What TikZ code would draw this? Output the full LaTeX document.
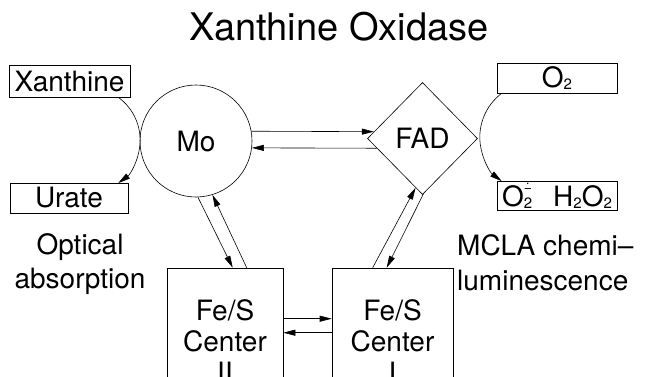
\documentclass[tikz,border=0pt]{standalone}
\usepackage{fontspec}
\setmainfont{TeX Gyre Heros}
\usetikzlibrary{shapes.geometric,arrows.meta,calc}
\newcommand{\subtwo}{\raisebox{-0.06em}{\fontsize{15}{15}\selectfont 2}}
\newcommand{\radsup}{\makebox[0pt][l]{\raisebox{0.50em}{\fontsize{14}{14}\selectfont −}}\makebox[0pt][l]{\hspace{0.08em}\raisebox{0.80em}{\fontsize{12}{12}\selectfont .}}}
\tikzset{
  lbl/.style={font=\fontsize{28}{31}\selectfont},
  sbox/.style={draw, line width=0.6pt, inner sep=0pt, lbl},
  conn/.style={line width=0.6pt, -{Triangle[length=12pt,width=6pt]}},
}
\begin{document}
\begin{tikzpicture}[x=1pt,y=-1pt]
\useasboundingbox (0,0) rectangle (646,376);
\fill[white] (0,0) rectangle (646,376);
\clip (0,0) rectangle (646,376);

\node[font=\fontsize{38}{40}\selectfont, anchor=base] (title) at (339,40) {Xanthine Oxidase};

\node[sbox, minimum width=121pt, minimum height=32pt] (xan) at (69.5,81) {Xanthine};
\node[sbox, minimum width=118pt, minimum height=30pt] (urate) at (69,198) {Urate};
\node[sbox, minimum width=120pt, minimum height=30pt] (o2) at (557,78) {O\subtwo};
\node[sbox, minimum width=120pt, minimum height=29pt] (prod) at (557,195.5) {O\radsup\subtwo\hspace{0.75em}H\subtwo O\subtwo};

\node[draw, circle, line width=0.6pt, minimum size=112pt, inner sep=0pt, lbl] (mo) at (196,141) {\raisebox{-0.18em}{Mo}};
\node[draw, diamond, aspect=1, line width=0.6pt, minimum width=110pt, minimum height=112pt, inner sep=0pt, lbl] (fad) at (422.5,138.5) {FAD};

\node[sbox, minimum width=116pt, minimum height=146pt, align=center] (f2) at (225,341) {Fe/S\\Center\\II};
\node[sbox, minimum width=121pt, minimum height=146pt, align=center] (f1) at (392.5,341) {Fe/S\\Center\\I};

\node[lbl, font=\fontsize{28}{34}\selectfont, align=center, inner sep=0pt] (opt) at (80,264) {Optical\\absorption};
\node[lbl, font=\fontsize{28}{35}\selectfont, align=left, inner sep=0pt, anchor=west] (mcla) at (457,262.5) {MCLA chemi–\\luminescence};

% substrate arcs
\draw[conn] ([xshift=-12pt]xan.south east) arc[start angle=54, end angle=-54, radius=53pt];
\draw[conn] ([xshift=5pt]o2.south west) arc[start angle=127, end angle=233, radius=55pt];

% Mo <-> FAD
\draw[conn] (mo.10) -- (fad.172);
\draw[conn] (fad.192) -- (mo.-7);

% Mo <-> Fe/S II
\draw[conn] (mo.-88) -- ([xshift=66pt]f2.north west);
\draw[conn] ([xshift=80pt]f2.north west) -- (mo.-73);

% FAD <-> Fe/S I
\draw[conn] ([xshift=41pt]f1.north west) -- (fad.262);
\draw[conn] (fad.271) -- ([xshift=55pt]f1.north west);

% Fe/S II <-> Fe/S I
\draw[conn] ([yshift=-51pt]f2.north east) -- ([yshift=-51pt]f1.north west);
\draw[conn] ([yshift=-65pt]f1.north west) -- ([yshift=-65pt]f2.north east);
\end{tikzpicture}
\end{document}
